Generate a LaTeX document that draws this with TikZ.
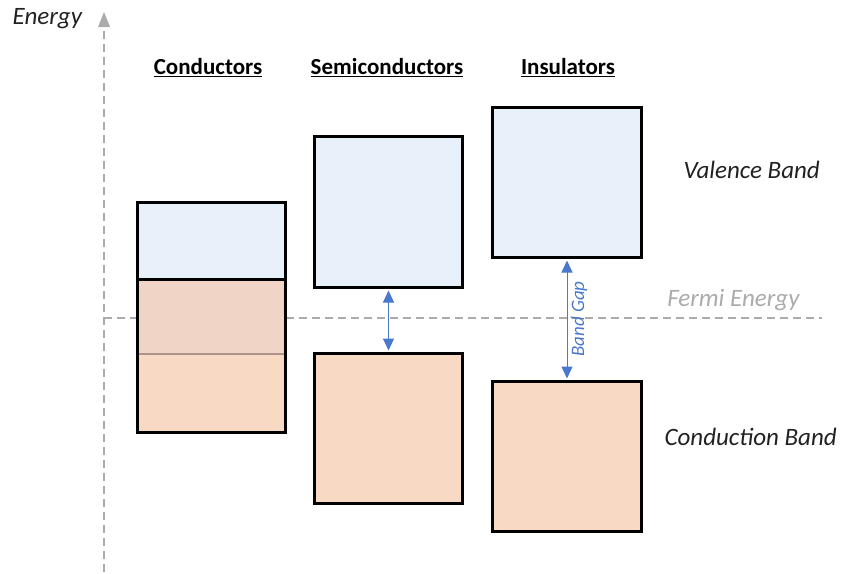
\documentclass[tikz,border=0pt]{standalone}
\usepackage{fontspec}
\setmainfont{Carlito}
\usetikzlibrary{arrows.meta}
\definecolor{valblue}{HTML}{E8F0FA}
\definecolor{condorange}{HTML}{F8D9C3}
\definecolor{overlaporange}{HTML}{F0D4C5}
\definecolor{overlapline}{HTML}{AC928A}
\definecolor{gapblue}{HTML}{4A78CC}
\definecolor{axisgray}{HTML}{ABABAB}
\definecolor{labelgray}{HTML}{222222}
\tikzset{
  band/.style={draw=black, line width=3pt},
  valence/.style={band, fill=valblue},
  conduction/.style={band, fill=condorange},
  header/.style={font=\bfseries\fontsize{23}{27}\selectfont, text=black},
  bandlabel/.style={font=\itshape\fontsize{25}{29}\selectfont, text=labelgray},
  guide/.style={axisgray, line width=2.5pt, dash pattern=on 8pt off 5pt},
  gap/.style={gapblue, line width=1pt, {Triangle[length=12pt,width=11pt]}-{Triangle[length=12pt,width=11pt]}},
}
\begin{document}
\begin{tikzpicture}[x=1pt,y=-1pt]
\useasboundingbox (0,0) rectangle (842,573);

% energy axis and Fermi level
\coordinate (axbot) at (104,572);
\coordinate (axtop) at (104,12);
\coordinate (fermiL) at (104,318);
\coordinate (fermiR) at (822,318);
\draw[guide] (axbot) -- (104,26);
\fill[axisgray] (axtop) -- (98,27) -- (110,27) -- cycle;
\draw[guide] (fermiL) -- (fermiR);
\node[bandlabel, anchor=west] (energy) at (9,19) {Energy};
\node[bandlabel, text=axisgray, anchor=east] (fermi) at (803,300) {Fermi Energy};

% column headers
\node[header] (hcond) at (208,68) {\underline{Conductors}};
\node[header] (hsemi) at (387,68) {\underline{Semiconductors}};
\node[header] (hins) at (568,68) {\underline{Insulators}};

% conductors: valence and conduction bands overlap
\fill[valblue] (137,202) rectangle (285,279);
\fill[overlaporange] (137,279) rectangle (285,354);
\fill[condorange] (137,354) rectangle (285,432);
\draw[overlapline, line width=2.5pt] (137,354) -- (285,354);
\draw[band] (137,202) rectangle (285,432);
\draw[band] (137,279) -- (285,279);

% semiconductors
\node[valence, minimum width=148pt, minimum height=151pt, inner sep=0pt, anchor=north west] (semiV) at (313,135) {};
\node[conduction, minimum width=148pt, minimum height=150pt, inner sep=0pt, anchor=north west] (semiC) at (313,352) {};
\path (semiV.south) ++(0,1.5) coordinate (sgtop) (semiC.north) ++(0,-1.5) coordinate (sgbot);
\draw[gap] (sgtop) -- (sgbot);

% insulators
\node[valence, minimum width=149pt, minimum height=150pt, inner sep=0pt, anchor=north west] (insV) at (491,106) {};
\node[conduction, minimum width=149pt, minimum height=150pt, inner sep=0pt, anchor=north west] (insC) at (491,380) {};
\path (insV.south) ++(0,1.5) coordinate (igtop) (insC.north) ++(0,-1.5) coordinate (igbot);
\draw[gap] (igtop) -- (igbot);
\node[font=\itshape\fontsize{19}{21}\selectfont, text=gapblue, rotate=90] (gaplabel) at (579,319) {Band Gap};

% band names
\node[bandlabel, anchor=west] (vlabel) at (680,170) {Valence Band};
\node[bandlabel, anchor=west] (clabel) at (661,437) {Conduction Band};
\end{tikzpicture}
\end{document}
